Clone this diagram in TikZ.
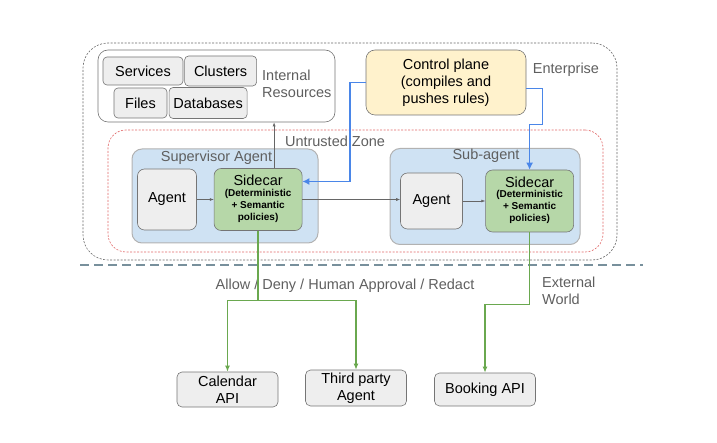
\documentclass[tikz,border=0pt]{standalone}
\usepackage{fontspec}
\setmainfont{Liberation Sans}
\usepackage{tikz}
\usetikzlibrary{arrows.meta,positioning,calc}
\definecolor{zonegray}{HTML}{666666}
\definecolor{txtgray}{HTML}{5F5F5F}
\definecolor{boxgray}{HTML}{EEEEEE}
\definecolor{lineblue}{HTML}{4A86E8}
\definecolor{linegreen}{HTML}{6AA84F}
\definecolor{agentblue}{HTML}{CFE2F3}
\definecolor{sidegreen}{HTML}{B6D7A8}
\definecolor{ctrlyellow}{HTML}{FFF2CC}
\definecolor{zonered}{HTML}{E06666}
\definecolor{sepgray}{HTML}{78909C}
\newcommand{\policytxt}{{\fontsize{10}{12}\selectfont\bfseries
  \begin{tabular}{@{}c@{}}(Deterministic\\+ Semantic\\policies)\end{tabular}}}

\begin{document}
\begin{tikzpicture}[x=1pt,y=-1pt,>=Latex,font=\fontsize{14.5}{17}\selectfont]
\tikzstyle{zone}=[draw=zonegray,dashed,dash pattern=on 2pt off 1.5pt,line width=0.6pt,inner sep=0pt]
\tikzstyle{res}=[draw=zonegray!90,fill=boxgray,rounded corners=4pt,inner sep=0pt,line width=0.6pt]
\tikzstyle{group}=[draw=gray!60,fill=agentblue,rounded corners=10pt,line width=1pt,inner sep=0pt]
\tikzstyle{agentbox}=[draw=zonegray!90,fill=boxgray,rounded corners=7pt,inner sep=0pt,line width=0.6pt]
\tikzstyle{sidecar}=[draw=zonegray!90,fill=sidegreen,rounded corners=7pt,inner sep=0pt,line width=0.6pt,align=center,minimum width=88pt,minimum height=62pt]
\tikzstyle{ext}=[draw=zonegray!90,fill=boxgray,rounded corners=5pt,inner sep=0pt,line width=0.6pt,align=center,minimum width=101pt]
\tikzstyle{lbl}=[text=txtgray,inner sep=0pt]
\tikzstyle{flow}=[-{Latex[length=6pt,width=5pt]},linegreen,line width=1.3pt]
\tikzstyle{push}=[-{Latex[length=7pt,width=7pt]},lineblue,line width=1.6pt]
\tikzstyle{call}=[-{Latex[length=4pt,width=3pt]},zonegray,line width=0.6pt]
\useasboundingbox (0,0) rectangle (717,443);
% zones
\node[zone,rounded corners=25pt,minimum width=534pt,minimum height=217pt] (ent) at (350,151.5) {};
\node[zone,draw=zonered,rounded corners=18pt,minimum width=495pt,minimum height=122pt] (untrusted) at (355.5,191) {};
\node[lbl] (entlbl) at (566,70) {Enterprise};
\node[lbl] (untlbl) at (335,141) {Untrusted Zone};
% internal resources
\node[res,fill=white,rounded corners=10pt,minimum width=237pt,minimum height=72pt] (resbox) at (216.5,86) {};
\node[res,minimum width=80pt,minimum height=28pt] (svc) at (143,71) {Services};
\node[res,minimum width=72pt,minimum height=30pt,right=1pt of svc] (clu) {Clusters};
\node[res,minimum width=53pt,minimum height=30pt] (files) at (140.5,103) {Files};
\node[res,minimum width=78pt,minimum height=31pt,right=1.5pt of files] (db) {Databases};
\node[lbl,anchor=west,align=left] (reslbl) at (262,84) {Internal\\Resources};
% control plane
\node[res,fill=ctrlyellow,rounded corners=9pt,minimum width=160pt,minimum height=65pt,align=center] (ctrl) at (446,82.5) {Control plane\\(compiles and\\pushes rules)};
% supervisor agent
\node[group,minimum width=186pt,minimum height=94pt] (sup) at (225,196) {};
\node[lbl] (suplbl) at (216.5,158) {Supervisor Agent};
\node[agentbox,minimum width=59pt,minimum height=61pt] (ag1) at (167,199.5) {Agent};
\node[sidecar,right=17pt of ag1] (side1) {Sidecar\\[1pt]\policytxt};
% sub-agent
\node[group,minimum width=190pt,minimum height=96pt] (sub) at (485,196.5) {};
\node[lbl] (sublbl) at (486,156) {Sub-agent};
\node[agentbox,minimum width=62pt,minimum height=56pt] (ag2) at (431.5,201) {Agent};
\node[sidecar,right=22.5pt of ag2] (side2) {Sidecar\\[1pt]\policytxt};
% boundary to the outside
\draw[sepgray,line width=1.8pt,dash pattern=on 9pt off 5pt] (80,265) -- (643,265);
\node[lbl] (verdict) at (345,286) {Allow / Deny / Human Approval / Redact};
\node[lbl,anchor=west,align=left] (extlbl) at (542,291) {External\\World};
% external targets
\node[ext,minimum height=35pt] (cal) at (227.5,389.5) {Calendar\\API};
\node[ext,minimum height=36pt] (third) at (356,388) {Third party\\Agent};
\node[ext,minimum height=33pt] (book) at (485,389.5) {Booking API};
% connectors
\draw[call] (ag1.east) -- (side1.west);
\draw[call] (side1.east) -- (side1.east -| ag2.west);
\draw[call] (ag2.east) -- (side2.west);
\coordinate (up) at ($(side1.north)+(16,0)$);
\draw[call] (up) -- (up |- resbox.south);
\draw[push] (ctrl.west) -- ++(-16,0) |- ($(side1.east)+(0,-18)$);
\draw[push] ($(ctrl.east)+(0,6)$) -- ++(16,0) -- ++(0,36) -| (side2.north);
\coordinate (split) at ($(side1.south)+(0,70)$);
\draw[flow] (side1.south) -- (split) -| (cal.north);
\draw[flow] (split) -| (third.north);
\draw[flow] (side2.south) -- ++(0,72) -| (book.north);
\end{tikzpicture}
\end{document}
